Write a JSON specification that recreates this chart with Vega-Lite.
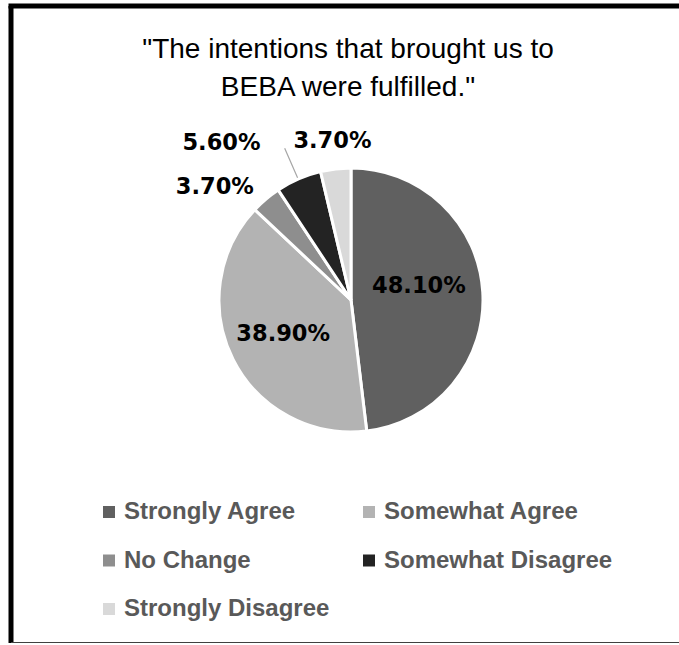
{
  "$schema": "https://vega.github.io/schema/vega-lite/v6.json",
  "width": 668,
  "height": 637,
  "autosize": {"type": "none"},
  "padding": {"left": 11, "top": 6, "right": 0, "bottom": 0},
  "background": "white",
  "title": {
    "text": ["\"The intentions that brought us to", "BEBA were fulfilled.\""],
    "font": "Liberation Sans",
    "fontSize": 28,
    "fontWeight": "normal",
    "color": "#000000",
    "lineHeight": 38,
    "anchor": "middle",
    "frame": "group",
    "baseline": "top",
    "offset": -98,
    "dx": 3
  },
  "data": {
    "values": [
      {"ord": 1, "cat": "Strongly Agree", "value": 48.1, "label": "48.10%"},
      {"ord": 2, "cat": "Somewhat Agree", "value": 38.9, "label": "38.90%"},
      {"ord": 3, "cat": "No Change", "value": 3.7, "label": "3.70%"},
      {"ord": 4, "cat": "Somewhat Disagree", "value": 5.6, "label": "5.60%"},
      {"ord": 5, "cat": "Strongly Disagree", "value": 3.7, "label": "3.70%"}
    ]
  },
  "layer": [
    {
      "transform": [{"filter": "datum.ord == 1"}],
      "mark": {"type": "rule", "stroke": "#000000", "strokeWidth": 5},
      "encoding": {"x": {"value": -2.5}, "x2": {"value": "width"}, "y": {"value": 0}}
    },
    {
      "transform": [{"filter": "datum.ord == 1"}],
      "mark": {"type": "rule", "stroke": "#000000", "strokeWidth": 5},
      "encoding": {"x": {"value": 0}, "y": {"value": 0}, "y2": {"value": "height"}}
    },
    {
      "transform": [{"filter": "datum.ord == 1"}],
      "mark": {"type": "rule", "stroke": "#404040", "strokeWidth": 2},
      "encoding": {"x": {"value": 0}, "x2": {"value": "width"}, "y": {"value": "height"}}
    },
    {
      "mark": {"type": "arc", "radius": 132, "stroke": "white", "strokeWidth": 3, "xOffset": 6, "yOffset": -24.5},
      "encoding": {
        "theta": {"field": "value", "type": "quantitative", "stack": true},
        "order": {"field": "ord", "type": "quantitative"},
        "color": {
          "field": "cat",
          "type": "nominal",
          "sort": ["Strongly Agree", "Somewhat Agree", "No Change", "Somewhat Disagree", "Strongly Disagree"],
          "scale": {
            "domain": ["Strongly Agree", "Somewhat Agree", "No Change", "Somewhat Disagree", "Strongly Disagree"],
            "range": ["#606060", "#b3b3b3", "#8e8e8e", "#232323", "#d9d9d9"]
          },
          "legend": {
            "title": null,
            "orient": "none",
            "legendX": 86,
            "legendY": 494,
            "direction": "horizontal",
            "columns": 2,
            "columnPadding": 27,
            "rowPadding": 24.5,
            "padding": 0,
            "symbolType": "square",
            "symbolSize": 144,
            "symbolStrokeWidth": 0,
            "symbolOpacity": 1,
            "labelFont": "Liberation Sans",
            "labelFontSize": 24,
            "labelFontWeight": "bold",
            "labelColor": "#595959",
            "labelOffset": 3,
            "labelLimit": 400
          }
        }
      }
    },
    {
      "transform": [{"filter": "datum.ord == 4"}],
      "mark": {"type": "arc", "theta": 5.871, "theta2": 5.8712, "radius": 165, "radius2": 134, "fill": null, "stroke": "#a6a6a6", "strokeWidth": 1.2, "xOffset": 6, "yOffset": -24.5},
      "encoding": {}
    },
    {
      "mark": {"type": "text", "radius": 68, "xOffset": 6, "yOffset": -24.5, "dy": -10, "font": "DejaVu Sans", "fontWeight": "bold", "fontSize": 22.5, "color": "#000000"},
      "encoding": {
        "theta": {"field": "value", "type": "quantitative", "stack": true},
        "order": {"field": "ord", "type": "quantitative"},
        "text": {"condition": {"test": "datum.ord == 1", "field": "label"}, "value": ""}
      }
    },
    {
      "mark": {"type": "text", "radius": 76, "xOffset": 6, "yOffset": -24.5, "font": "DejaVu Sans", "fontWeight": "bold", "fontSize": 22.5, "color": "#000000"},
      "encoding": {
        "theta": {"field": "value", "type": "quantitative", "stack": true},
        "order": {"field": "ord", "type": "quantitative"},
        "text": {"condition": {"test": "datum.ord == 2", "field": "label"}, "value": ""}
      }
    },
    {
      "mark": {"type": "text", "radius": 160, "xOffset": 6, "yOffset": -24.5, "dx": -33, "dy": 9, "font": "DejaVu Sans", "fontWeight": "bold", "fontSize": 22.5, "color": "#000000"},
      "encoding": {
        "theta": {"field": "value", "type": "quantitative", "stack": true},
        "order": {"field": "ord", "type": "quantitative"},
        "text": {"condition": {"test": "datum.ord == 3", "field": "label"}, "value": ""}
      }
    },
    {
      "mark": {"type": "text", "radius": 175, "xOffset": 6, "yOffset": -24.5, "dx": -60, "dy": 4, "font": "DejaVu Sans", "fontWeight": "bold", "fontSize": 22.5, "color": "#000000"},
      "encoding": {
        "theta": {"field": "value", "type": "quantitative", "stack": true},
        "order": {"field": "ord", "type": "quantitative"},
        "text": {"condition": {"test": "datum.ord == 4", "field": "label"}, "value": ""}
      }
    },
    {
      "mark": {"type": "text", "radius": 160, "xOffset": 6, "yOffset": -24.5, "font": "DejaVu Sans", "fontWeight": "bold", "fontSize": 22.5, "color": "#000000"},
      "encoding": {
        "theta": {"field": "value", "type": "quantitative", "stack": true},
        "order": {"field": "ord", "type": "quantitative"},
        "text": {"condition": {"test": "datum.ord == 5", "field": "label"}, "value": ""}
      }
    }
  ]
}
